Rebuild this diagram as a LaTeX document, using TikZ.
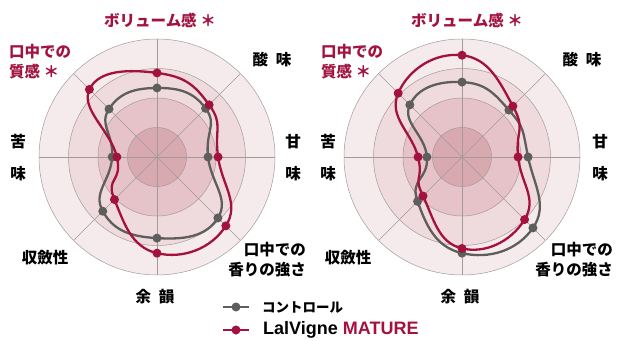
\documentclass[tikz,border=0pt]{standalone}
\usepackage{fontspec}
\setmainfont{Liberation Sans}
\newfontfamily\jp{Noto Sans CJK JP}
\usetikzlibrary{calc,positioning}
\definecolor{wine}{HTML}{A3123E}
\definecolor{ctrlgray}{HTML}{5E5E5E}
\definecolor{ringA}{HTML}{D9A9B0}
\definecolor{ringB}{HTML}{E6C3C8}
\definecolor{ringC}{HTML}{EFDADD}
\definecolor{ringD}{HTML}{F5EAEC}
\definecolor{ringline}{HTML}{A39A9C}
\tikzset{
    lbl/.style={
        font=\jp\bfseries\fontsize{15.5}{20}\selectfont,
        align=center,
        inner sep=0pt
    },
    redlbl/.style={lbl, text=wine},
    ring/.style={draw=ringline, line width=0.5pt},
    spoke/.style={draw=ringline, line width=0.6pt},
    ctrlline/.style={draw=ctrlgray, line width=2.3pt},
    matline/.style={draw=wine, line width=2.3pt}
}
% background rings and spokes of one chart
\newcommand{\radargrid}{
    \filldraw[ring, fill=ringD] (0,0) circle (118);
    \filldraw[ring, fill=ringC] (0,0) circle (88.5);
    \filldraw[ring, fill=ringB] (0,0) circle (59);
    \filldraw[ring, fill=ringA] (0,0) circle (29.5);
    \foreach \a in {0,45,...,315}
        \draw[spoke] (0,0) -- (\a:118);
}

\begin{document}
\begin{tikzpicture}[x=1pt,y=1pt]
    \useasboundingbox (0,0) rectangle (617,340);

    % left chart
    \begin{scope}[shift={(157,183)}]
        \radargrid
        \foreach \a/\v [count=\i] in {90/2.34,45/2.33,0/1.73,-45/2.92,-90/2.75,-135/2.6,180/1.52,135/2.3}
            \coordinate (lg\i) at (\a:{\v*29.5});
        \foreach \a/\v [count=\i] in {90/2.85,45/2.5,0/2.07,-45/3.3,-90/3.26,-135/2.04,180/1.36,135/3.24}
            \coordinate (lr\i) at (\a:{\v*29.5});
        \draw[ctrlline] plot[smooth cycle, tension=0.85] coordinates {(lg1) (lg2) (lg3) (lg4) (lg5) (lg6) (lg7) (lg8)};
        \foreach \i in {1,...,8}
            \fill[ctrlgray] (lg\i) circle (4.5);
        \draw[matline] plot[smooth cycle, tension=0.85] coordinates {(lr1) (lr2) (lr3) (lr4) (lr5) (lr6) (lr7) (lr8)};
        \foreach \i in {1,...,8}
            \fill[wine] (lr\i) circle (4.5);
    \end{scope}

    \node[redlbl] (LVol) at (160,320) {ボリューム感 ＊};
    \node[redlbl, anchor=west, align=left] (LTex) at (9,278) {口中での\\質感 ＊};
    \node[lbl] (LSour) at (272,280) {酸\enspace 味};
    \node[lbl] (LSweet) at (293,182) {甘\\[12pt]味};
    \node[lbl, anchor=east, align=right] (LAroma) at (306,80) {口中での\\香りの強さ};
    \node[lbl] (LFin) at (155,43) {余\enspace 韻};
    \node[lbl] (LAstr) at (45,82) {収斂性};
    \node[lbl] (LBit) at (18,182) {苦\\[12pt]味};

    % right chart
    \begin{scope}[shift={(462,183)}]
        \radargrid
        \foreach \a/\v [count=\i] in {90/2.54,45/2.25,0/2.24,-45/3.4,-90/3.26,-135/2.13,180/1.19,135/2.5}
            \coordinate (rg\i) at (\a:{\v*29.5});
        \foreach \a/\v [count=\i] in {90/3.45,45/2.44,0/1.9,-45/3.0,-90/3.1,-135/1.87,180/1.49,135/3.06}
            \coordinate (rr\i) at (\a:{\v*29.5});
        \draw[ctrlline] plot[smooth cycle, tension=0.85] coordinates {(rg1) (rg2) (rg3) (rg4) (rg5) (rg6) (rg7) (rg8)};
        \foreach \i in {1,...,8}
            \fill[ctrlgray] (rg\i) circle (4.5);
        \draw[matline] plot[smooth cycle, tension=0.85] coordinates {(rr1) (rr2) (rr3) (rr4) (rr5) (rr6) (rr7) (rr8)};
        \foreach \i in {1,...,8}
            \fill[wine] (rr\i) circle (4.5);
    \end{scope}

    \node[redlbl] (RVol) at (467,320) {ボリューム感 ＊};
    \node[redlbl, anchor=west, align=left] (RTex) at (321,278) {口中での\\質感 ＊};
    \node[lbl] (RSour) at (582,280) {酸\enspace 味};
    \node[lbl] (RSweet) at (600,182) {甘\\[12pt]味};
    \node[lbl, anchor=east, align=right] (RAroma) at (613,80) {口中での\\香りの強さ};
    \node[lbl] (RFin) at (460,43) {余\enspace 韻};
    \node[lbl] (RAstr) at (348,82) {収斂性};
    \node[lbl] (RBit) at (328,182) {苦\\[12pt]味};

    % legend
    \coordinate (KeyA1) at (223,33);
    \coordinate (KeyA2) at (249,33);
    \coordinate (KeyB1) at (223,10);
    \coordinate (KeyB2) at (249,10);
    \draw[draw=ctrlgray, line width=2.3pt] (KeyA1) -- (KeyA2);
    \fill[ctrlgray] ($(KeyA1)!0.5!(KeyA2)$) circle (4.5);
    \draw[draw=wine, line width=2.3pt] (KeyB1) -- (KeyB2);
    \fill[wine] ($(KeyB1)!0.5!(KeyB2)$) circle (4.5);
    \node[lbl, anchor=west, font=\jp\bfseries\fontsize{13.5}{16}\selectfont] (KeyCtrl) at (262,33) {コントロール};
    \node[anchor=west, inner sep=0pt, font=\bfseries\fontsize{18}{20}\selectfont] (KeyMat) at (263,10)
        {LalVigne \textcolor{wine}{MATURE}};
\end{tikzpicture}
\end{document}
